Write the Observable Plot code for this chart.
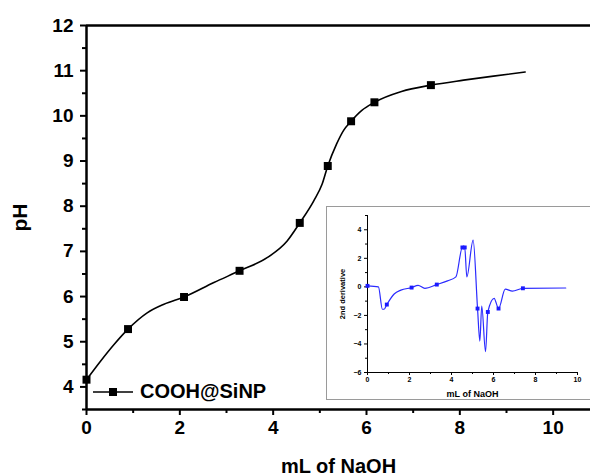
<!DOCTYPE html>
<html><head><meta charset="utf-8">
<script src="https://cdn.jsdelivr.net/npm/d3@7"></script>
<script src="https://cdn.jsdelivr.net/npm/@observablehq/plot@0.6"></script>
<style>
html,body{margin:0;padding:0;background:#fff;overflow:hidden;}
#wrap{position:relative;width:590px;height:475px;font-family:'Liberation Sans',Arial,sans-serif;}
#main{position:absolute;left:0;top:0;}
#inset{position:absolute;left:326px;top:206px;width:280px;height:192px;border:1px solid #9a9a9a;background:#fff;}
#legend{position:absolute;left:92px;top:380px;display:flex;align-items:center;font-weight:bold;font-size:20px;color:#000;}
#legend svg{margin-right:6px;}
</style></head><body>
<div id="wrap"><div id="main"></div><div id="inset"></div>
<div id="legend"><svg width="42" height="22"><line x1="1" y1="11" x2="41" y2="11" stroke="black" stroke-width="1.6"/><rect x="17" y="7" width="8" height="8" fill="black"/></svg><span id="legendText"></span></div>
</div>
<script>
// Main titration curve (mL of NaOH vs pH)
const volume = [0, 0.3, 0.59, 0.89, 1.3, 1.66, 2.09, 2.73, 3.28, 3.87, 4.30, 4.57, 4.87, 5.05, 5.17, 5.36, 5.51, 5.67, 5.9, 6.17, 6.75, 7.38, 8.08, 8.72, 9.4];
const pH     = [4.16, 4.57, 4.94, 5.28, 5.64, 5.83, 5.99, 6.31, 6.57, 6.86, 7.23, 7.63, 8.12, 8.49, 8.89, 9.38, 9.68, 9.88, 10.12, 10.30, 10.54, 10.68, 10.79, 10.88, 10.97];
const markerVolume = [0, 0.89, 2.09, 3.28, 4.57, 5.17, 5.67, 6.17, 7.38];
const markerPH     = [4.16, 5.28, 5.99, 6.57, 7.63, 8.89, 9.88, 10.30, 10.68];
const seriesName = "COOH@SiNP";

// Inset: 2nd derivative
const derivVolume = [0, 0.52, 0.71, 0.79, 0.92, 1.27, 1.59, 2.1, 2.41, 2.73, 3.3, 3.81, 4.21, 4.52, 4.63, 4.73, 5.03, 5.24, 5.35, 5.44, 5.62, 5.73, 6.03, 6.24, 6.56, 6.9, 7.4, 9.44];
const deriv       = [0.07, 0.0, -1.57, -1.57, -1.24, -0.5, -0.23, -0.05, 0.1, -0.1, 0.16, 0.42, 0.7, 2.76, 2.76, 0.7, 3.28, -1.52, -3.8, -1.34, -4.54, -1.76, -0.8, -1.52, -0.16, -0.3, -0.1, -0.08];
const derivMarkerVolume = [0, 0.92, 2.1, 3.3, 4.52, 4.63, 5.24, 5.73, 6.24, 7.4];
const derivMarker       = [0.07, -1.24, -0.05, 0.16, 2.76, 2.76, -1.52, -1.76, -1.52, -0.1];

// Tick labels
const xMajor = [0, 2, 4, 6, 8, 10];
const xMinor = [1, 3, 5, 7, 9];
const yMajor = [4, 5, 6, 7, 8, 9, 10, 11, 12];
const yMinor = [3.5, 4.5, 5.5, 6.5, 7.5, 8.5, 9.5, 10.5, 11.5];
const insetXMajor = [0, 2, 4, 6, 8, 10];
const insetXMinor = [1, 3, 5, 7, 9];
const insetYMajor = [-6, -4, -2, 0, 2, 4];
const insetYMinor = [-5, -3, -1, 1, 3, 5];

const curve = volume.map((v, i) => ({v, p: pH[i]}));
const marks = markerVolume.map((v, i) => ({v, p: markerPH[i]}));
const dcurve = derivVolume.map((v, i) => ({v, d: deriv[i]}));
const dmarks = derivMarkerVolume.map((v, i) => ({v, d: derivMarker[i]}));

const font = "'Liberation Sans', Arial, sans-serif";

const main = Plot.plot({
  width: 590, height: 475,
  marginLeft: 86, marginRight: 0, marginTop: 25, marginBottom: 66,
  style: {fontFamily: font, fontWeight: "bold", background: "transparent", color: "black"},
  x: {domain: [0, 10.8]},
  y: {domain: [3.5, 12]},
  marks: [
    Plot.axisX({ticks: xMajor, tickSize: 6, tickPadding: 5, fontSize: 19, strokeWidth: 2, label: null}),
    Plot.axisX({ticks: [], fontSize: 20, label: "mL of NaOH", labelAnchor: "center", labelOffset: 63, labelArrow: "none"}),
    Plot.axisX({ticks: xMinor, tickSize: 4, strokeWidth: 2, tickFormat: () => "", label: null}),
    Plot.axisY({ticks: yMajor, tickSize: 6, tickPadding: 7, fontSize: 19, strokeWidth: 2, label: null}),
    Plot.axisY({ticks: [], fontSize: 21, label: "pH", labelAnchor: "center", labelOffset: 74, labelArrow: "none"}),
    Plot.axisY({ticks: yMinor, tickSize: 4, strokeWidth: 2, tickFormat: () => "", label: null}),
    Plot.ruleY([12], {stroke: "black", strokeWidth: 2.5}),
    Plot.ruleY([3.5], {stroke: "black", strokeWidth: 2.5}),
    Plot.ruleX([0], {stroke: "black", strokeWidth: 2.5}),
    Plot.line(curve, {x: "v", y: "p", curve: "monotone-x", stroke: "black", strokeWidth: 1.6}),
    Plot.dot(marks, {x: "v", y: "p", symbol: "square", fill: "black", r: 4.5})
  ]
});
main.querySelectorAll("text").forEach(t => t.setAttribute("font-weight", "bold"));
document.getElementById("main").append(main);
document.getElementById("legendText").textContent = seriesName;

const inset = Plot.plot({
  width: 270, height: 192,
  marginLeft: 40, marginRight: 20, marginTop: 8, marginBottom: 27,
  style: {fontFamily: font, fontWeight: "bold", background: "transparent", color: "black"},
  x: {domain: [0, 10]},
  y: {domain: [-6, 5]},
  marks: [
    Plot.axisX({ticks: insetXMajor, tickSize: 3, tickPadding: 2, fontSize: 7, label: null}),
    Plot.axisX({ticks: [], fontSize: 9, label: "mL of NaOH", labelAnchor: "center", labelOffset: 24, labelArrow: "none"}),
    Plot.axisX({ticks: insetXMinor, tickSize: 2, tickFormat: () => "", label: null}),
    Plot.axisY({ticks: insetYMajor, tickSize: 3, tickPadding: 3, fontSize: 7, label: null}),
    Plot.axisY({ticks: [], fontSize: 7.5, label: "2nd derivative", labelAnchor: "center", labelOffset: 28, labelArrow: "none"}),
    Plot.axisY({ticks: insetYMinor, tickSize: 2, tickFormat: () => "", label: null}),
    Plot.ruleY([-6], {stroke: "black", strokeWidth: 1}),
    Plot.ruleX([0], {stroke: "black", strokeWidth: 1}),
    Plot.line(dcurve, {x: "v", y: "d", curve: "monotone-x", stroke: "#2b2bff", strokeWidth: 1.2}),
    Plot.dot(dmarks, {x: "v", y: "d", symbol: "square", fill: "#1a1aff", r: 2.2})
  ]
});
inset.querySelectorAll("text").forEach(t => t.setAttribute("font-weight", "bold"));
document.getElementById("inset").append(inset);
</script></body></html>
